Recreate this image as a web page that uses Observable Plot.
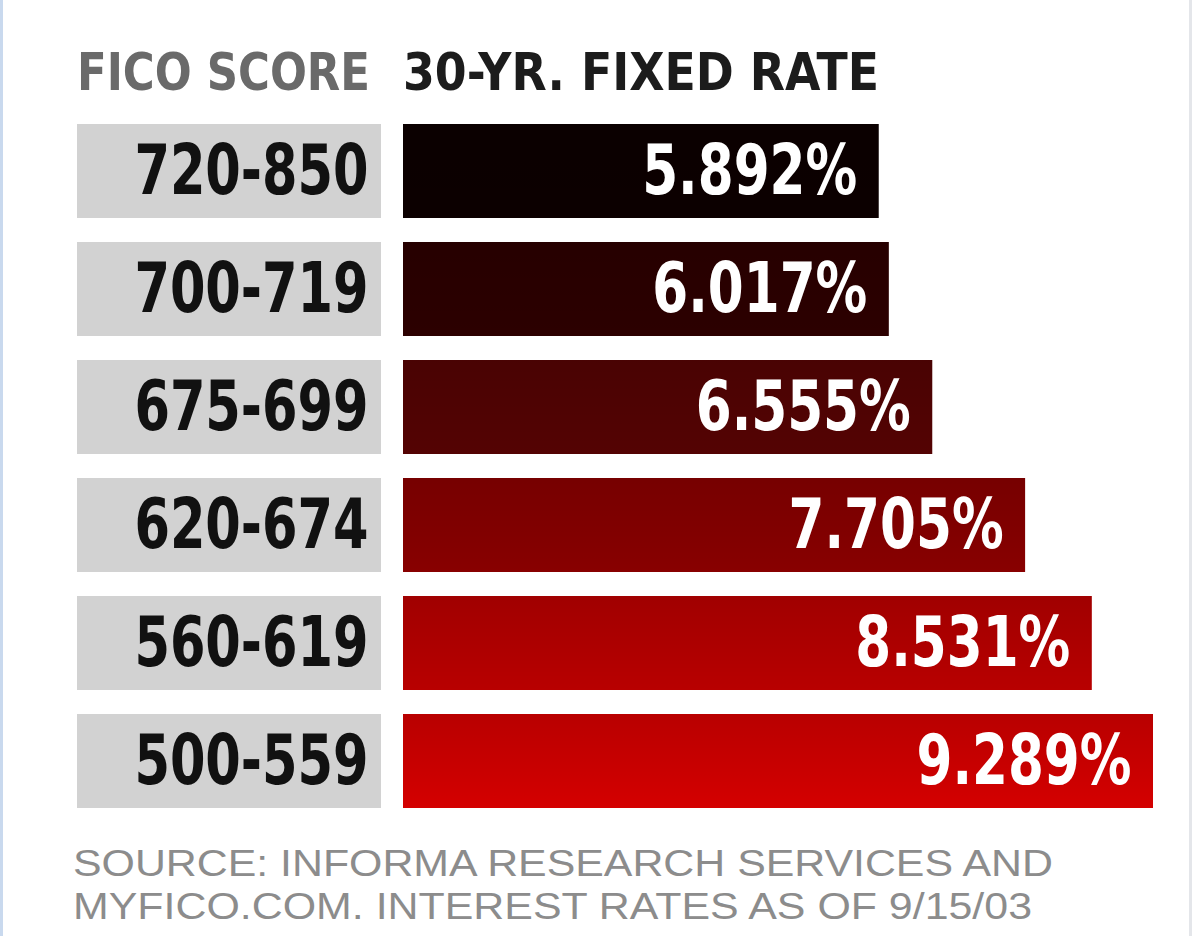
<!DOCTYPE html>
<html>
<head>
<meta charset="utf-8">
<script src="https://cdn.jsdelivr.net/npm/d3@7"></script>
<script src="https://cdn.jsdelivr.net/npm/@observablehq/plot@0.6"></script>
<style>
  html, body { margin: 0; padding: 0; background: #ffffff; }
  body { width: 1192px; height: 936px; position: relative; overflow: hidden;
         font-family: "DejaVu Sans Condensed", "DejaVu Sans", sans-serif; font-stretch: condensed; }
  #frame { position: absolute; inset: 0; border-left: 3px solid #c9d9ee; border-right: 3px solid #e4e6ea; pointer-events: none; }
  #header { position: relative; height: 100px; }
  #header span { position: absolute; top: 46px; font-size: 52px; line-height: 52px; font-weight: bold; white-space: nowrap; transform-origin: left center; }
  #h1 { left: 77px; color: #6a6a6a; }
  #h2 { left: 403px; color: #1c1c1c; }
  #row { display: flex; height: 725px; }
  #row svg { display: block; overflow: visible; }
  #footer { margin-top: 17px; padding-left: 73px; font-family: "Liberation Sans", Arial, sans-serif; font-stretch: normal;
            font-size: 37px; line-height: 43px; color: #8c8c8c; white-space: nowrap; }
  #footer div { height: 43px; }
  #footer span { display: inline-block; transform-origin: left center; }
</style>
</head>
<body>
<div id="frame"></div>
<div id="header"><span id="h1">FICO SCORE</span><span id="h2">30-YR. FIXED RATE</span></div>
<div id="row"></div>
<div id="footer"><div><span id="f1">SOURCE: INFORMA RESEARCH SERVICES AND</span></div><div><span id="f2">MYFICO.COM. INTEREST RATES AS OF 9/15/03</span></div></div>
<script>
const scores = ["720-850", "700-719", "675-699", "620-674", "560-619", "500-559"];
const rates = [5.892, 6.017, 6.555, 7.705, 8.531, 9.289];
const barColors = ["#0c0000", "#2c0000", "#540303", "#880000", "#b80000", "#d40000"];

const data = scores.map((s, i) => ({score: s, rate: rates[i], color: barColors[i], label: d3.format(".3f")(rates[i]) + "%"}));

const font = '"DejaVu Sans Condensed", "DejaVu Sans", sans-serif';
const yOpts = {domain: scores, paddingInner: 0.2, paddingOuter: 0.1, axis: null};

const left = Plot.plot({
  width: 403, height: 725,
  marginLeft: 77, marginRight: 22, marginTop: 10, marginBottom: 3,
  style: {fontFamily: font, background: "transparent"},
  y: yOpts,
  marks: [
    Plot.cell(data, {y: "score", fill: "#d2d2d2", inset: 0}),
    Plot.text(data, {y: "score", text: "score", frameAnchor: "right", textAnchor: "end", dx: -13,
      fontSize: 70, fontWeight: "bold", fill: "#111111"})
  ]
});

const right = Plot.plot({
  width: 789, height: 725,
  marginLeft: 0, marginRight: 39, marginTop: 10, marginBottom: 3,
  style: {fontFamily: font, background: "transparent"},
  x: {axis: null},
  y: yOpts,
  marks: [
    Plot.barX(data, {y: "score", x: "rate", fill: "color"}),
    Plot.barX(data, {y: "score", x: "rate", fill: "url(#shade)"}),
    Plot.text(data, {y: "score", x: "rate", text: "label", textAnchor: "end", dx: -22,
      fontSize: 70, fontWeight: "bold", fill: "#ffffff"})
  ]
});

// vertical shading overlay (darker at top) for each bar
const defs = d3.select(right).insert("defs", ":first-child");
const g = defs.append("linearGradient").attr("id", "shade").attr("x1", 0).attr("y1", 0).attr("x2", 0).attr("y2", 1);
g.append("stop").attr("offset", "0%").attr("stop-color", "#000").attr("stop-opacity", 0.13);
g.append("stop").attr("offset", "100%").attr("stop-color", "#000").attr("stop-opacity", 0);

document.getElementById("row").append(left, right);

// condense the bold labels horizontally about their right (anchor) edge
function squeeze(svg, k) {
  svg.querySelectorAll("text").forEach(t => {
    const b = t.getBBox();
    const ax = b.x + b.width, ay = b.y + b.height / 2;
    const prev = t.getAttribute("transform") || "";
    t.setAttribute("transform", `${prev} translate(${ax},${ay}) scale(${k},1) translate(${-ax},${-ay})`.trim());
  });
}
squeeze(left, 0.81);
squeeze(right, 0.82);

function fitWidth(el, target) {
  const w = el.getBoundingClientRect().width;
  el.style.transform = `scaleX(${target / w})`;
}
fitWidth(document.getElementById("h1"), 293);
fitWidth(document.getElementById("h2"), 476);
fitWidth(document.getElementById("f1"), 980);
fitWidth(document.getElementById("f2"), 959);
</script>
</body>
</html>
